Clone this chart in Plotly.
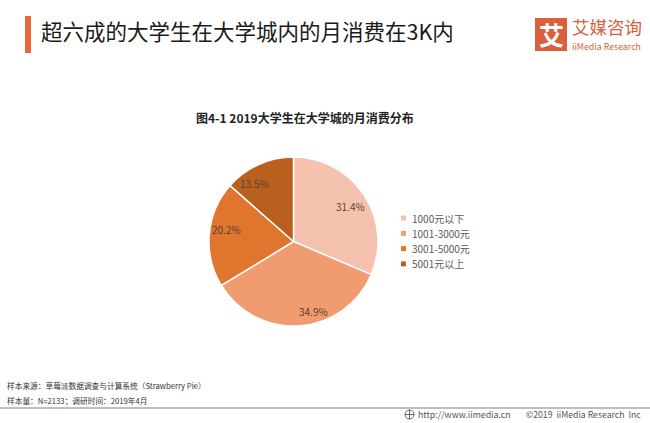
import plotly.graph_objects as go

W, H = 650, 423
FONT = "Noto Sans CJK SC"

# data
categories = ["1000元以下", "1001-3000元", "3001-5000元", "5001元以上"]
shares = [31.4, 34.9, 20.2, 13.5]
colors = ["#F5C2AF", "#F09B70", "#E0752E", "#B9601F"]
# where the original put its percent labels, in pixels
label_x = [350, 313, 226, 254]
label_y = [206, 311, 229, 183]

title = "超六成的大学生在大学城内的月消费在3K内"
subtitle = "图4-1 2019大学生在大学城的月消费分布"
source_lines = ["样本来源：草莓派数据调查与计算系统（Strawberry Pie）", "样本量：N=2133；调研时间：2019年4月"]


def px_x(x):
    return x / W


def px_y(y):
    return 1 - y / H


def text(x, y, s, size, color="#333333", anchor="left", family=FONT):
    return dict(x=px_x(x), y=px_y(y), xref="paper", yref="paper", text=s, showarrow=False,
                xanchor=anchor, yanchor="middle",
                font=dict(family=family, size=size, color=color))


def rect(x0, y0, x1, y1, color):
    return dict(type="rect", xref="paper", yref="paper", x0=px_x(x0), x1=px_x(x1),
                y0=px_y(y0), y1=px_y(y1), fillcolor=color, line_width=0)


fig = go.Figure(go.Pie(
    labels=categories,
    values=shares,
    sort=False,
    direction="clockwise",
    rotation=0,
    textinfo="none",
    hoverinfo="label+percent",
    marker=dict(colors=colors, line=dict(color="white", width=1.5)),
    domain=dict(x=[px_x(209), px_x(378)], y=[px_y(326), px_y(157)]),
    showlegend=False,
))

annotations = [
    text(39, 31, title, 21.5, "#1a1a1a"),
    text(305, 117, "<b>" + subtitle + "</b>", 12, "#222222", anchor="center"),
    text(5, 385, source_lines[0], 7.7, "#333333"),
    text(5, 400, source_lines[1], 7.7, "#333333"),
    text(416, 414, "http://www.iimedia.cn", 8.8, "#555555"),
    text(524, 414, "©2019  iiMedia Research  Inc", 8.7, "#555555"),
    # logo
    text(551, 34, "<b>艾</b>", 25, "white", anchor="center"),
    text(570, 27, "艾媒咨询", 17.5, "#D9603B"),
    text(570, 46, "iiMedia Research", 8.8, "#D9603B"),
]

# percent labels
for s, x, y in zip(shares, label_x, label_y):
    annotations.append(text(x, y, f"{s}%", 10, "#5c4033", anchor="center"))

shapes = [
    rect(25, 16, 31, 53, "#E8663A"),
    dict(type="rect", xref="paper", yref="paper", x0=px_x(536), x1=px_x(566),
         y0=px_y(50), y1=px_y(19), fillcolor="#D9603B", line=dict(color="#D9603B", width=2)),
    dict(type="line", xref="paper", yref="paper", x0=0, x1=1, y0=px_y(408), y1=px_y(408),
         line=dict(color="#808080", width=1.2)),
    dict(type="circle", xref="paper", yref="paper", x0=px_x(405), x1=px_x(414),
         y0=px_y(419), y1=px_y(410), line=dict(color="#666666", width=1)),
    dict(type="line", xref="paper", yref="paper", x0=px_x(405), x1=px_x(414),
         y0=px_y(414.5), y1=px_y(414.5), line=dict(color="#666666", width=1)),
    dict(type="line", xref="paper", yref="paper", x0=px_x(409.5), x1=px_x(409.5),
         y0=px_y(419), y1=px_y(410), line=dict(color="#666666", width=1)),
]

# legend drawn by hand, the row pitch is tighter than plotly's own legend allows
for i, (cat, col) in enumerate(zip(categories, colors)):
    row_y = 218 + i * 15.3
    shapes.append(rect(401, row_y - 2.5, 406, row_y + 2.5, col))
    annotations.append(text(410, row_y, cat, 10, "#595959"))

fig.update_layout(
    width=W,
    height=H,
    margin=dict(l=0, r=0, t=0, b=0),
    paper_bgcolor="white",
    annotations=annotations,
    shapes=shapes,
)

# the page's default body margin would push the figure off by 8px
fig.write_html("out.html", config={"displayModeBar": False},
               post_script="document.body.style.margin='0';document.body.style.overflow='hidden';")
